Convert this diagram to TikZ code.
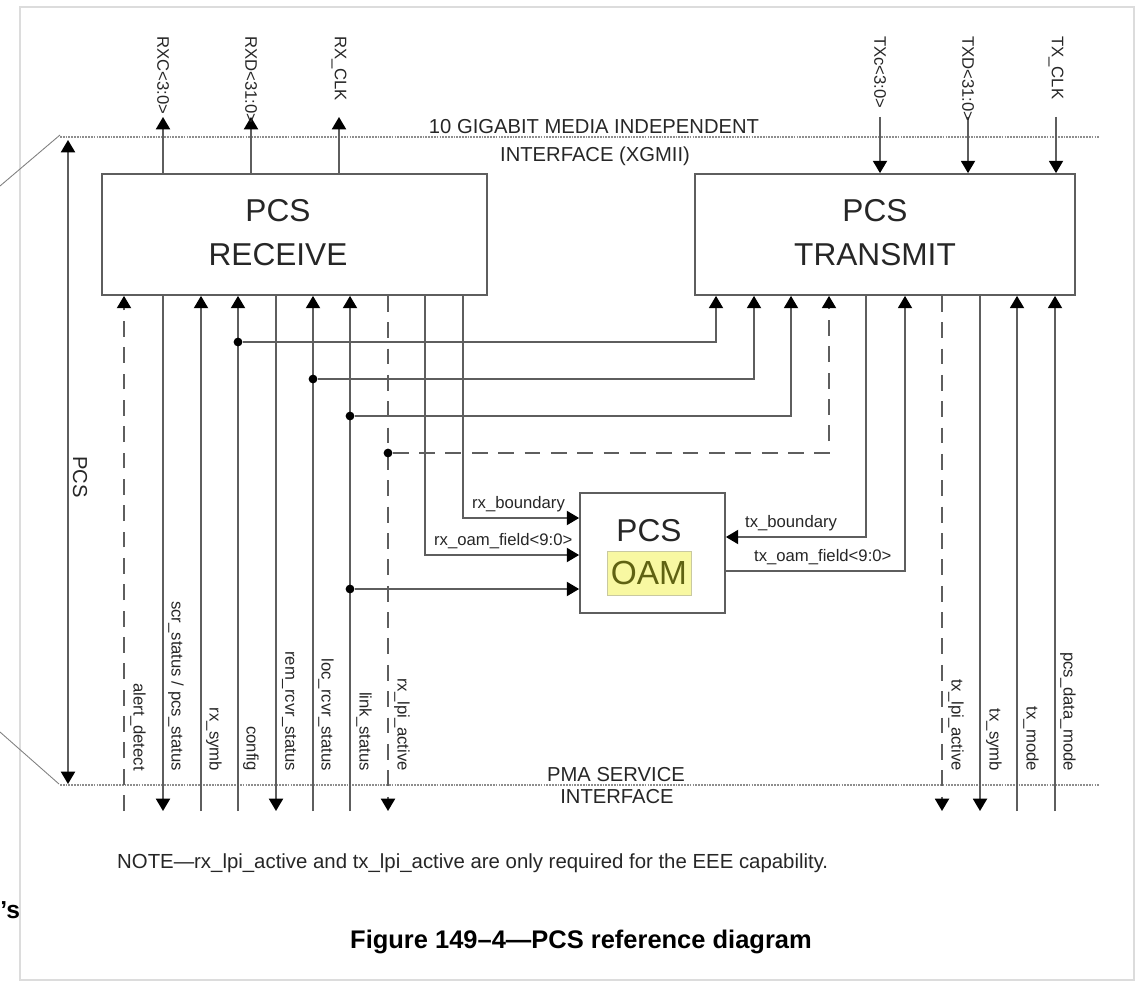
\documentclass[tikz,border=0pt]{standalone}
\usepackage{fontspec}
\setmainfont{Liberation Sans}
\usetikzlibrary{arrows.meta,positioning}
\definecolor{wiregray}{HTML}{5E5E5E}
\definecolor{ifacegray}{HTML}{8E8E8E}
\definecolor{framegray}{HTML}{DCDCDC}
\definecolor{oamfill}{HTML}{F8F8A2}
\definecolor{oamedge}{HTML}{C9C9A0}
\definecolor{oamtext}{HTML}{5F6212}

\begin{document}
\begin{tikzpicture}[
    x=0.02cm, y=-0.02cm,
    block/.style={draw=wiregray, line width=1pt, inner sep=0pt},
    blocktext/.style={font=\fontsize{18}{25}\selectfont, align=center, text=black!85},
    wire/.style={draw=wiregray, line width=1pt},
    to box/.style={wire, -{Triangle[width=8pt,length=7pt,black]}},
    dash wire/.style={dash pattern=on 9pt off 6pt},
    iface/.style={draw=ifacegray, line width=1.2pt, dash pattern=on 1pt off 0.6pt},
    junction/.style={circle, fill=black, inner sep=0pt, minimum size=5pt},
    sig/.style={font=\fontsize{9.5}{11}\selectfont, text=black!85, inner sep=1pt},
    vsig/.style={sig, rotate=-90},
    ifacetext/.style={font=\fontsize{11.5}{13}\selectfont, text=black!85, inner sep=0pt}
]
\useasboundingbox (0,0) rectangle (1142,983);

% Page frame and cut-off remnants
\draw[framegray, line width=1.5pt] (20,7) rectangle (1134,980);
\draw[gray, line width=0.5pt] (60,135) -- (0,186);
\draw[gray, line width=0.5pt] (0,732) -- (59,784);
\node[font=\bfseries\fontsize{14}{16}\selectfont, anchor=west, inner sep=0pt] (cut) at (0,910) {'s};

% Interfaces
\coordinate (xg w) at (60,137);
\coordinate (xg e) at (1100,137);
\coordinate (pma w) at (60,785);
\coordinate (pma e) at (1099,785);
\draw[iface] (xg w) -- (xg e);
\draw[iface] (pma w) -- (pma e);
\node[ifacetext] (xgmii a) at (594,127) {10 GIGABIT MEDIA INDEPENDENT};
\node[ifacetext] (xgmii b) at (595,156) {INTERFACE (XGMII)};
\node[ifacetext] (pma a) at (616,775) {PMA SERVICE};
\node[ifacetext] (pma b) at (617,797) {INTERFACE};

% PCS extent
\coordinate (pcs top) at (68,140);
\coordinate (pcs bot) at (68,784);
\draw[wire, {Triangle[width=8pt,length=7pt,black]}-{Triangle[width=8pt,length=7pt,black]}] (pcs top) -- (pcs bot);
\node[ifacetext, rotate=-90] (pcs lbl) at (80,477) {PCS};

% Blocks
\node[block, minimum width=7.7cm, minimum height=2.42cm] (rx) at (294.5,234.5) {};
\node[blocktext] (rx text) at (278,233) {PCS\\RECEIVE};
\node[block, minimum width=7.6cm, minimum height=2.42cm] (tx) at (885,234.5) {};
\node[blocktext] (tx text) at (875,233) {PCS\\TRANSMIT};
\node[block, minimum width=2.9cm, minimum height=2.4cm] (oam) at (652.5,553) {};
\node[blocktext] (oam pcs) at (649,531) {PCS};
\node[draw=oamedge, fill=oamfill, text=oamtext, font=\fontsize{19}{22}\selectfont,
      minimum width=1.68cm, minimum height=0.88cm, inner sep=0pt] (oam hl) at (649,573) {OAM};

% XGMII signals
\coordinate (rxc) at (163,117);
\coordinate (rxd) at (251,117);
\coordinate (rxclk) at (339,117);
\coordinate (txc) at (880,117);
\coordinate (txd) at (968,117);
\coordinate (txclk) at (1056,117);
\draw[to box] (rx.north -| rxc) -- (rxc);
\draw[to box] (rx.north -| rxd) -- (rxd);
\draw[to box] (rx.north -| rxclk) -- (rxclk);
\draw[to box] (txc) -- (tx.north -| txc);
\draw[to box] (txd) -- (tx.north -| txd);
\draw[to box] (txclk) -- (tx.north -| txclk);
\node[vsig, anchor=west] (rxc lbl) at (163,34) {RXC<3:0>};
\node[vsig, anchor=west] (rxd lbl) at (251,34) {RXD<31:0>};
\node[vsig, anchor=west] (rxclk lbl) at (339,34) {RX\_CLK};
\node[vsig, anchor=west] (txc lbl) at (880,34) {TXc<3:0>};
\node[vsig, anchor=west] (txd lbl) at (968,34) {TXD<31:0>};
\node[vsig, anchor=west] (txclk lbl) at (1056,34) {TX\_CLK};

% PMA signals, receive side
\coordinate (alert) at (124,811);
\coordinate (scr) at (163,811);
\coordinate (rxsymb) at (201,811);
\coordinate (config) at (238,811);
\coordinate (rem) at (276,811);
\coordinate (loc) at (313,811);
\coordinate (link) at (350,811);
\coordinate (rxlpi) at (388,811);
\draw[to box, dash wire] (alert) -- (rx.south -| alert);
\draw[to box] (rx.south -| scr) -- (scr);
\draw[to box] (rxsymb) -- (rx.south -| rxsymb);
\draw[to box] (config) -- (rx.south -| config);
\draw[to box] (rx.south -| rem) -- (rem);
\draw[to box] (loc) -- (rx.south -| loc);
\draw[to box] (link) -- (rx.south -| link);
\draw[to box, dash wire] (rx.south -| rxlpi) -- (rxlpi);

% PMA signals, transmit side
\coordinate (txlpi) at (942,811);
\coordinate (txsymb) at (980,811);
\coordinate (txmode) at (1017,811);
\coordinate (datamode) at (1055,811);
\draw[to box, dash wire] (tx.south -| txlpi) -- (txlpi);
\draw[to box] (tx.south -| txsymb) -- (txsymb);
\draw[to box] (txmode) -- (tx.south -| txmode);
\draw[to box] (datamode) -- (tx.south -| datamode);

% Status shared with transmit
\node[junction] (j config) at (238,342) {};
\node[junction] (j loc) at (313,379) {};
\node[junction] (j link) at (350,416) {};
\node[junction] (j lpi) at (388,453) {};
\node[junction] (j oam) at (350,589) {};
\draw[to box] (j config) -| (tx.south -| 716,0);
\draw[to box] (j loc) -| (tx.south -| 754,0);
\draw[to box] (j link) -| (tx.south -| 791,0);
\draw[to box, dash wire] (j lpi) -| (tx.south -| 829,0);
\draw[to box] (j oam) -- (j oam -| oam.west);

% OAM fields
\draw[to box] (rx.south -| 463,0) |- (oam.west |- 0,518);
\draw[to box] (rx.south -| 425,0) |- (oam.west |- 0,555);
\draw[to box] (tx.south -| 866,0) |- (oam.east |- 0,537);
\draw[to box] (oam.east |- 0,571) -| (tx.south -| 905,0);
\node[sig, anchor=south west] (rxb lbl) at (470,514) {rx\_boundary};
\node[sig, anchor=south west] (rxo lbl) at (432,551) {rx\_oam\_field<9:0>};
\node[sig, anchor=south west] (txb lbl) at (743,533) {tx\_boundary};
\node[sig, anchor=south west] (txo lbl) at (752,567) {tx\_oam\_field<9:0>};

% Bottom labels
\node[vsig, anchor=east] (alert lbl) at (138,773) {alert\_detect};
\node[vsig, anchor=east] (scr lbl) at (176,773) {scr\_status / pcs\_status};
\node[vsig, anchor=east] (rxsymb lbl) at (214,773) {rx\_symb};
\node[vsig, anchor=east] (config lbl) at (251,773) {config};
\node[vsig, anchor=east] (rem lbl) at (289,773) {rem\_rcvr\_status};
\node[vsig, anchor=east] (loc lbl) at (326,773) {loc\_rcvr\_status};
\node[vsig, anchor=east] (link lbl) at (364,773) {link\_status};
\node[vsig, anchor=east] (rxlpi lbl) at (402,773) {rx\_lpi\_active};
\node[vsig, anchor=east] (txlpi lbl) at (956,773) {tx\_lpi\_active};
\node[vsig, anchor=east] (txsymb lbl) at (994,773) {tx\_symb};
\node[vsig, anchor=east] (txmode lbl) at (1031,773) {tx\_mode};
\node[vsig, anchor=east] (datamode lbl) at (1068,773) {pcs\_data\_mode};

% Note and caption
\node[font=\fontsize{11.6}{14}\selectfont, anchor=west, text=black!85] (note) at (111,863)
  {NOTE—rx\_lpi\_active and tx\_lpi\_active are only required for the EEE capability.};
\node[font=\bfseries\fontsize{14.5}{17}\selectfont] (caption) at (581,942) {Figure 149–4—PCS reference diagram};

\end{tikzpicture}
\end{document}
